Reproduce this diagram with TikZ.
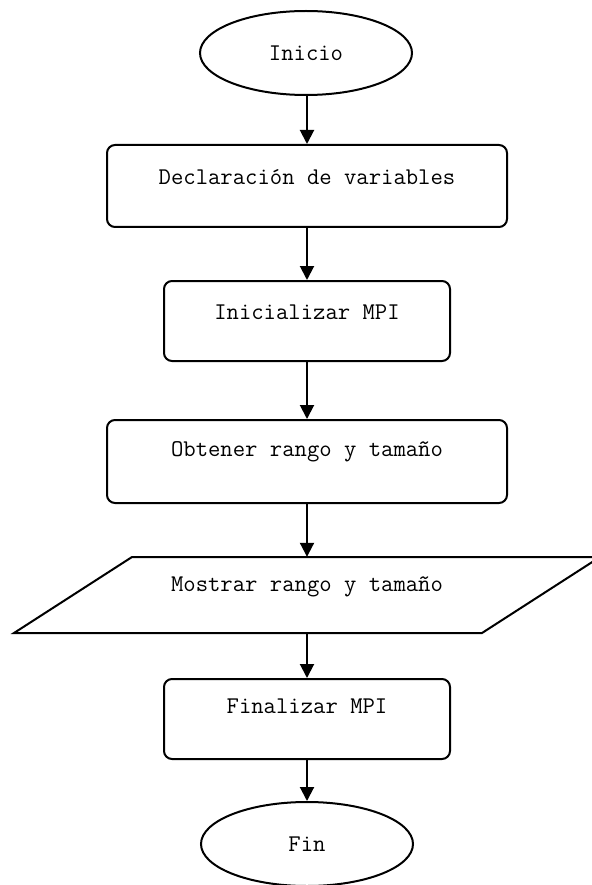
\documentclass[tikz,border=0pt]{standalone}
\usepackage{fontspec}
\usetikzlibrary{shapes.geometric,arrows.meta}
\tikzset{
  flowline/.style={line width=2pt},
  stepbox/.style={draw, line width=2pt, rounded corners=8pt, inner sep=0pt},
  termnode/.style={draw, ellipse, line width=2pt, inner sep=0pt, minimum width=212pt, minimum height=84pt, font=\fontsize{24}{28}\selectfont\ttfamily},
  lbl/.style={font=\fontsize{24}{28}\selectfont\ttfamily, inner sep=0pt},
  conn/.style={line width=2pt, -{Triangle[length=14pt,width=14pt]}}
}
\begin{document}
\begin{tikzpicture}[x=1pt,y=-1pt]
\useasboundingbox (0,0) rectangle (591,885);
% terminal
\node[termnode] (start) at (306,53) {Inicio};
% boxes
\node[stepbox, minimum width=400pt, minimum height=82pt] (b1) at (307,186) {};
\node[lbl] (b1t) at (307,177) {Declaración de variables};
\node[stepbox, minimum width=286pt, minimum height=80pt] (b2) at (307,321) {};
\node[lbl] (b2t) at (307,312) {Inicializar MPI};
\node[stepbox, minimum width=400pt, minimum height=83pt] (b3) at (307,461.5) {};
\node[lbl] (b3t) at (307,452) {Obtener rango y tamaño};
% parallelogram
\node[minimum width=350pt, minimum height=76pt, inner sep=0pt] (para) at (307,595) {};
\draw[flowline, line join=miter] (132,557) -- (600,557) -- (482,633) -- (14,633) -- cycle;
\node[lbl] (parat) at (307,587) {Mostrar rango y tamaño};
\node[stepbox, minimum width=286pt, minimum height=80pt] (b4) at (307,719) {};
\node[lbl] (b4t) at (307,706) {Finalizar MPI};
\node[termnode] (fin) at (307,844) {Fin};
% connectors
\draw[conn] (start.south -| b1.north) -- (b1.north);
\draw[conn] (b1.south) -- (b2.north);
\draw[conn] (b2.south) -- (b3.north);
\draw[conn] (b3.south) -- (para.north);
\draw[conn] (para.south) -- (b4.north);
\draw[conn] (b4.south) -- (fin.north);
\end{tikzpicture}
\end{document}
